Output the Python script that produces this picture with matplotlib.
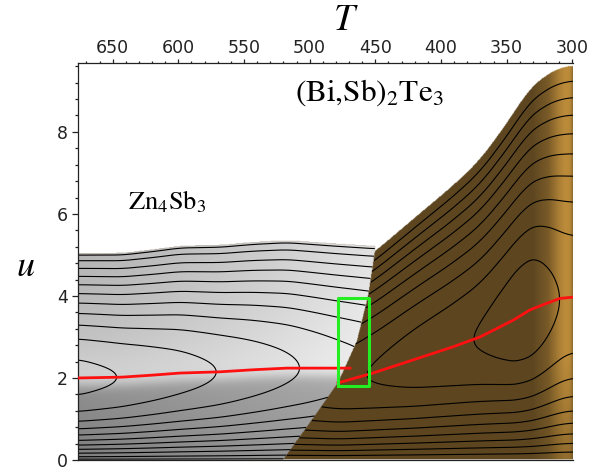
import numpy as np
import matplotlib.pyplot as plt

plt.rcParams['mathtext.fontset'] = 'stix'

# optimum u (red lines)
T_red_zn = [676.4, 642.9, 619.3, 598.7, 568.3, 543.1, 517.3, 469.3]
u_red_zn = [2.00, 2.02, 2.07, 2.12, 2.15, 2.20, 2.24, 2.24]
T_red_bi = [478.4, 451.8, 421.3, 390.8, 370.3, 345.0, 332.2, 319.5, 309.4, 299.5]
u_red_bi = [1.88, 2.12, 2.44, 2.76, 3.00, 3.41, 3.66, 3.82, 3.94, 3.97]

# zT estimated from the contour vertices / surface edges
T_zt_zn = [676.4, 647, 600, 571, 540, 509, 480, 450]
zt_zn = [1.31, 1.25, 1.14, 1.07, 0.99, 0.91, 0.83, 0.76]
T_zt_bi = [520, 480, 450, 420, 390, 370, 350, 338, 325, 312, 299.5]
zt_bi = [0.80, 0.86, 0.92, 0.99, 1.04, 1.08, 1.16, 1.21, 1.17, 1.07, 1.03]

# where the (Bi,Sb)2Te3 surface covers the Zn4Sb3 one
T_edge = [520.3, 500.0, 478.4, 464.0, 455.5, 450.2, 450.2]
u_edge = [0.0, 0.9, 1.88, 2.9, 4.0, 5.1, 9.7]

# green box
box_T = [478.4, 455.2]
box_u = [1.80, 3.94]

levels_zn = [0.005, 0.02, 0.04, 0.06, 0.08, 0.10, 0.12, 0.14, 0.16, 0.18, 0.20, 0.22]
levels_bi = [0.02, 0.04, 0.06, 0.08, 0.10, 0.12, 0.14, 0.16, 0.18, 0.20, 0.22]

T_left, T_right = 676.4, 299.5
u_top = 9.68


def interp_dec(x, xp, fp):
    return np.interp(x, np.asarray(xp)[::-1], np.asarray(fp)[::-1])


def smooth(y, n):
    k = np.ones(n) / n
    yp = np.concatenate([np.full(n, y[0]), y, np.full(n, y[-1])])
    return np.convolve(yp, k, mode='same')[n:-n]


def eta_r(u, s, zt):
    a = np.sqrt(1 + zt)
    x = u / s * (a - 1)
    return x * (1 - x / zt) / (1 + x)


nx, ny = 760, 640
T = np.linspace(T_left, T_right, nx)
u = np.linspace(0, u_top, ny)
Tg, Ug = np.meshgrid(T, u)

s_zn1 = smooth(interp_dec(T, T_red_zn, u_red_zn), 30)
s_bi1 = smooth(interp_dec(T, T_red_bi, u_red_bi), 40)
z_zn1 = smooth(interp_dec(T, T_zt_zn, zt_zn), 30)
z_bi1 = smooth(interp_dec(T, T_zt_bi, zt_bi), 40)
s_zn = np.broadcast_to(s_zn1, Tg.shape)
s_bi = np.broadcast_to(s_bi1, Tg.shape)
eta_zn = eta_r(Ug, s_zn, np.broadcast_to(z_zn1, Tg.shape))
eta_bi = eta_r(Ug, s_bi, np.broadcast_to(z_bi1, Tg.shape))

Tcut = np.interp(Ug, u_edge, T_edge)
bi_mask = (Tg <= Tcut) & (eta_bi > 0)
zn_mask = (Tg > Tcut) & (eta_zn > 0)

# grey surface shading: light above the ridge, dark below
r = np.clip((T_left - Tg) / (T_left - 455), 0, 1)
d = Ug - s_zn
upper = 0.77 + 0.17 * r**1.4 - 0.06 * np.clip(d / 3, 0, 1) + 0.05 * np.exp(-(d / 0.9)**2) * (1 - r)
lower = 0.50 + 0.06 * np.clip(Ug / 1.8, 0, 1) + 0.11 * r
t = 1 / (1 + np.exp(-(d + 0.2) / 0.08))
grey = lower + (upper - lower) * t

# brown surface with the golden band near 300 K
w = np.interp(Tg, [299.5, 301.5, 305, 310, 318, 330], [0.55, 0.95, 1.0, 0.8, 0.3, 0.0])
w = w * np.interp(Ug, [0, 2.5, 10], [0.55, 1.0, 1.0])
base = np.array([0.365, 0.275, 0.125])
gold = np.array([0.74, 0.55, 0.23])

img = np.ones((ny, nx, 4))
for c in range(3):
    img[..., c] = np.where(zn_mask, grey, base[c] + (gold[c] - base[c]) * w)
img[..., 3] = np.where(zn_mask | bi_mask, 1.0, 0.0)

fig = plt.figure(figsize=(6.03, 4.72), dpi=100)
ax = fig.add_axes([78 / 603, 1 - 460 / 472, (573 - 78) / 603, (460 - 63) / 472])

ax.imshow(img, origin='lower', extent=[T_left, T_right, 0, u_top],
          aspect='auto', interpolation='bilinear', zorder=1)

ax.contour(Tg, Ug, np.ma.masked_where(~zn_mask, eta_zn), levels=levels_zn,
           colors='k', linewidths=0.8, zorder=2)
ax.contour(Tg, Ug, np.ma.masked_where(~bi_mask, eta_bi), levels=levels_bi,
           colors='k', linewidths=0.8, zorder=2)

ax.plot(T_red_zn, u_red_zn, color='#ff1010', lw=2.0, zorder=3)
ax.plot(T_red_bi, u_red_bi, color='#ff1010', lw=2.0, zorder=3)

ax.plot([box_T[0], box_T[1], box_T[1], box_T[0], box_T[0]],
        [box_u[0], box_u[0], box_u[1], box_u[1], box_u[0]],
        color='#22ee22', lw=2.2, zorder=4)

ax.text(638, 6.3, r'$\mathrm{Zn}_4\mathrm{Sb}_3$', fontsize=19, va='center', ha='left', zorder=5)
ax.text(511, 8.95, r'$\mathrm{(Bi{,}Sb)}_2\mathrm{Te}_3$', fontsize=22.5, va='center', ha='left', zorder=5)

ax.set_xlim(T_left, T_right)
ax.set_ylim(0, u_top)

ax.xaxis.tick_top()
ax.set_xticks([650, 600, 550, 500, 450, 400, 350, 300])
ax.set_xticks(np.arange(670, 299, -10), minor=True)
ax.set_yticks([0, 2, 4, 6, 8])
ax.set_yticks(np.arange(0, 9.7, 0.4), minor=True)
ax.tick_params(axis='x', which='major', direction='out', length=3, width=0.9,
               labelsize=12.5, pad=1.5, colors='#222222')
ax.tick_params(axis='x', which='minor', direction='out', length=1.5, width=0.9, colors='#222222')
ax.tick_params(axis='y', which='major', direction='out', length=4.5, width=0.9,
               labelsize=12.5, pad=3, colors='#222222')
ax.tick_params(axis='y', which='minor', direction='out', length=2.2, width=0.9, colors='#222222')

ax.spines['right'].set_visible(False)
for side in ['left', 'top', 'bottom']:
    ax.spines[side].set_color('#222222')
    ax.spines[side].set_linewidth(0.9)

fig.text(346 / 603, 1 - 20 / 472, r'$T$', fontsize=27, ha='center', va='center')
fig.text(26 / 603, 1 - 266 / 472, r'$u$', fontsize=26, ha='center', va='center')

fig.savefig('out.png', dpi=100)
